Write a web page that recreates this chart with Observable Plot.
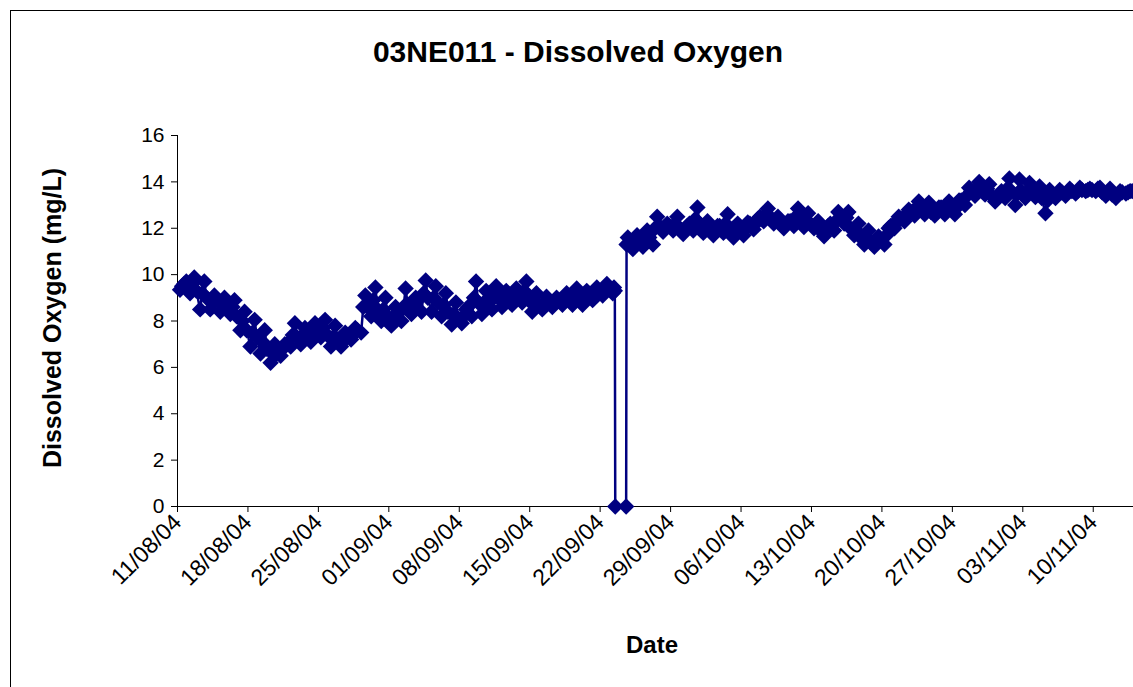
<!DOCTYPE html>
<html>
<head>
<meta charset="utf-8">
<script src="https://cdn.jsdelivr.net/npm/d3@7"></script>
<script src="https://cdn.jsdelivr.net/npm/@observablehq/plot@0.6"></script>
<style>
  html, body { margin: 0; padding: 0; background: #fff; }
  body { width: 1133px; height: 687px; overflow: hidden; position: relative; font-family: "Liberation Sans", Arial, sans-serif; }
  #frame { position: absolute; left: 10px; top: 10px; width: 1200px; height: 800px; border: 1px solid #000; box-sizing: border-box; }
  #chart { position: absolute; left: 0; top: 0; }
  #title { position: absolute; left: 10px; width: 1136px; top: 36px; text-align: center; font-weight: bold; font-size: 30px; line-height: 32px; color: #000; }
  #ylabel { position: absolute; left: 52px; top: 318px; transform: translate(-50%, -50%) rotate(-90deg); white-space: nowrap; font-weight: bold; font-size: 25px; color: #000; }
  #xlabel { position: absolute; left: 652px; top: 645px; transform: translate(-50%, -50%); white-space: nowrap; font-weight: bold; font-size: 24px; color: #000; }
</style>
</head>
<body>
<div id="frame"></div>
<div id="chart"></div>
<div id="title">03NE011 - Dissolved Oxygen</div>
<div id="ylabel">Dissolved Oxygen (mg/L)</div>
<div id="xlabel">Date</div>
<script>
// Period 1: 11/08/04 .. 22/09/04 — readings at 06:00 (low), 11:00, 16:00 (high), 21:00 each day
const period1Start = "2004-08-11";
const period1Lows  = [9.35, 9.2, 8.5, 8.5, 8.4, 8.3, 7.6, 6.9, 6.6, 6.2, 6.5, 6.9, 7.0, 7.1, 7.3, 6.9, 6.9, 7.2, 7.5, 8.2, 8.0, 7.8, 8.0, 8.3, 8.4, 8.4, 8.2, 7.85, 7.9, 8.2, 8.3, 8.5, 8.6, 8.7, 8.8, 8.4, 8.5, 8.6, 8.7, 8.7, 8.7, 8.9, 9.1];
const period1Mid1  = [9.5, 9.6, 9.2, 8.8, 8.7, 8.6, 8.0, 7.5, 7.1, 6.6, 6.8, 7.4, 7.4, 7.5, 7.7, 7.3, 7.2, 7.5, 8.6, 8.9, 8.5, 8.2, 8.6, 8.7, 9.2, 9.0, 8.7, 8.3, 8.2, 9.0, 8.8, 9.0, 9.0, 9.0, 9.3, 8.8, 8.8, 8.8, 9.0, 9.0, 9.0, 9.2, 9.3];
const period1Highs = [9.6, 9.88, 9.7, 9.1, 9.0, 8.9, 8.4, 8.05, 7.6, 7.0, 7.0, 7.9, 7.7, 7.9, 8.05, 7.8, 7.5, 7.7, 9.1, 9.45, 9.0, 8.6, 9.4, 9.0, 9.75, 9.5, 9.2, 8.8, 8.5, 9.7, 9.3, 9.5, 9.3, 9.4, 9.7, 9.2, 9.05, 9.0, 9.2, 9.4, 9.3, 9.45, 9.6];
const period1Mid2  = [9.7, 9.3, 9.0, 8.9, 8.7, 8.2, 7.6, 7.3, 6.8, 6.6, 7.0, 7.3, 7.4, 7.7, 7.4, 7.2, 7.3, 7.6, 8.6, 8.5, 8.2, 8.3, 8.7, 8.9, 9.0, 8.8, 8.4, 8.1, 8.6, 8.8, 8.9, 9.0, 9.0, 9.2, 8.9, 8.7, 8.8, 8.9, 9.0, 9.0, 9.1, 9.3, 9.4];

// 23/09/04 – 24/09/04: last readings, the two faulty zero readings, and the restart
const gapTimes  = ["2004-09-23T06:00", "2004-09-23T09:00", "2004-09-23T11:00", "2004-09-23T12:00", "2004-09-24T14:00", "2004-09-24T15:00", "2004-09-24T18:00", "2004-09-24T22:00"];
const gapValues = [9.2, 9.45, 9.3, 0, 0, 11.3, 11.6, 11.4];

// Period 2: 25/09/04 .. 13/11/04
const period2Start = "2004-09-25";
const period2Lows  = [11.1, 11.2, 11.3, 11.85, 11.9, 11.75, 11.9, 11.8, 11.7, 11.8, 11.6, 11.7, 11.95, 12.3, 12.2, 12.0, 12.1, 12.05, 12.0, 11.65, 11.9, 12.2, 11.7, 11.3, 11.2, 11.3, 12.0, 12.3, 12.55, 12.6, 12.55, 12.6, 12.6, 13.0, 13.4, 13.45, 13.15, 13.3, 13.0, 13.3, 13.35, 12.65, 13.3, 13.4, 13.5, 13.6, 13.6, 13.4, 13.3, 13.5];
const period2Mid1  = [11.4, 11.5, 12.0, 12.0, 12.2, 11.9, 12.4, 12.0, 11.9, 12.2, 11.9, 12.0, 12.2, 12.6, 12.35, 12.15, 12.5, 12.3, 12.15, 11.9, 12.3, 12.45, 11.9, 11.6, 11.4, 11.7, 12.3, 12.6, 12.9, 12.8, 12.7, 12.9, 12.9, 13.4, 13.7, 13.7, 13.3, 13.7, 13.5, 13.6, 13.55, 13.2, 13.5, 13.55, 13.6, 13.65, 13.7, 13.55, 13.45, 13.55];
const period2Highs = [11.7, 11.9, 12.5, 12.2, 12.5, 12.1, 12.9, 12.3, 12.1, 12.6, 12.2, 12.25, 12.4, 12.85, 12.5, 12.3, 12.85, 12.65, 12.3, 12.1, 12.7, 12.7, 12.2, 11.9, 11.65, 12.0, 12.5, 12.8, 13.15, 13.1, 12.9, 13.15, 13.2, 13.75, 14.0, 13.9, 13.4, 14.15, 14.1, 13.95, 13.8, 13.65, 13.65, 13.7, 13.75, 13.7, 13.75, 13.7, 13.6, 13.6];
const period2Mid2  = [11.5, 11.6, 12.1, 12.1, 12.0, 12.2, 12.2, 11.9, 12.1, 11.9, 11.9, 12.2, 12.5, 12.5, 12.2, 12.3, 12.4, 12.2, 11.9, 12.2, 12.5, 12.0, 11.6, 11.4, 11.5, 12.1, 12.4, 12.7, 12.8, 12.7, 12.9, 12.9, 13.2, 13.6, 13.7, 13.4, 13.6, 13.6, 13.6, 13.6, 13.3, 13.5, 13.55, 13.6, 13.65, 13.65, 13.55, 13.45, 13.55, 13.6];

const tickLabels = ["11/08/04", "18/08/04", "25/08/04", "01/09/04", "08/09/04", "15/09/04", "22/09/04", "29/09/04", "06/10/04", "13/10/04", "20/10/04", "27/10/04", "03/11/04", "10/11/04"];
const yTicks = [0, 2, 4, 6, 8, 10, 12, 14, 16];
const xDomain = ["2004-08-11", "2004-11-14"];
const readingHours = [6, 11, 16, 21];

const parseDay = d3.utcParse("%Y-%m-%d");
const parseTime = d3.utcParse("%Y-%m-%dT%H:%M");
const parseTick = d3.utcParse("%d/%m/%y");
const fmtTick = d3.utcFormat("%d/%m/%y");

const data = [];
function addPeriod(start, series) {
  const s = parseDay(start);
  series[0].forEach((_, i) => {
    const day = d3.utcDay.offset(s, i);
    series.forEach((arr, k) => data.push({date: d3.utcHour.offset(day, readingHours[k]), value: arr[i]}));
  });
}
addPeriod(period1Start, [period1Lows, period1Mid1, period1Highs, period1Mid2]);
gapTimes.forEach((t, i) => data.push({date: parseTime(t), value: gapValues[i]}));
addPeriod(period2Start, [period2Lows, period2Mid1, period2Highs, period2Mid2]);

const x0 = parseDay(xDomain[0]);

const chart = Plot.plot({
  width: 1133,
  height: 687,
  marginLeft: 177,
  marginRight: 0,
  marginTop: 135,
  marginBottom: 181,
  x: {type: "utc", domain: xDomain.map(parseDay)},
  y: {domain: [0, 16]},
  style: {fontFamily: "'Liberation Sans', Arial, sans-serif", color: "#000", background: "transparent", overflow: "visible"},
  marks: [
    Plot.ruleX([x0], {stroke: "#000", strokeWidth: 1}),
    Plot.ruleY([0], {stroke: "#000", strokeWidth: 1}),
    Plot.axisY({ticks: yTicks, tickSize: 6, tickPadding: 7, fontSize: 21, label: null, stroke: "#000"}),
    Plot.axisX({ticks: tickLabels.map(parseTick), tickFormat: fmtTick, tickSize: 6, tickPadding: 6, tickRotate: -45, fontSize: 23, label: null, stroke: "#000"}),
    Plot.line(data, {x: "date", y: "value", stroke: "#000080", strokeWidth: 2.5}),
    Plot.dot(data, {x: "date", y: "value", symbol: "diamond2", r: 7.4, fill: "#000080"})
  ]
});
document.getElementById("chart").appendChild(chart);
</script>
</body>
</html>
